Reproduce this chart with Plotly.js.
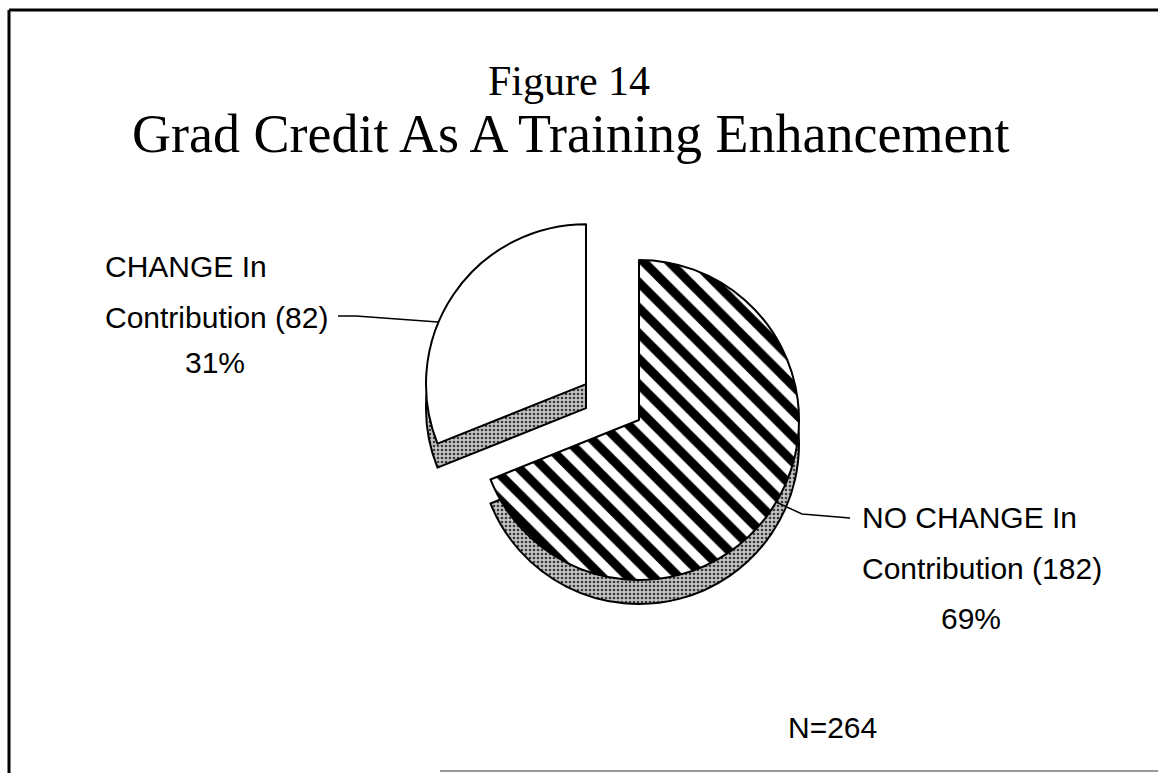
<!DOCTYPE html>
<html>
<head>
<meta charset="utf-8">
<script src="https://cdn.plot.ly/plotly-3.0.1.min.js"></script>
<style>
html,body{margin:0;padding:0;background:#fff;}
#chart{width:1158px;height:773px;}
</style>
</head>
<body>
<div id="chart"></div>
<script>
// ---- data ----
var categoryHeads = ['NO CHANGE In', 'CHANGE In'];
var categoryTail = 'Contribution';
var counts = [182, 82];
var titleLine1 = 'Figure 14';
var titleLine2 = 'Grad Credit As A Training Enhancement';

// ---- derived ----
var W = 1158, H = 773;
var total = counts.reduce(function(a, b){ return a + b; }, 0);
var pcts = counts.map(function(v){ return Math.round(v / total * 100); });
var labels = categoryHeads.map(function(h){ return h + ' ' + categoryTail; });
function px(x){ return x / W; }
function py(y){ return 1 - y / H; }

var pullArr = [0, 0.4];
var cx = 639, cy = 420, half = 224, depth = 24;

var topTrace = {
  type: 'pie',
  labels: labels,
  values: counts,
  sort: false,
  direction: 'clockwise',
  rotation: 0,
  pull: pullArr,
  textinfo: 'none',
  hoverinfo: 'label+value+percent',
  showlegend: false,
  domain: {x: [px(cx - half), px(cx + half)], y: [py(cy + half), py(cy - half)]},
  marker: {
    colors: ['#ffffff', '#ffffff'],
    line: {color: '#000000', width: 2},
    pattern: {shape: ['\\', ''], fgcolor: '#000000', bgcolor: '#ffffff', size: 18, solidity: 0.5}
  }
};
var sideTrace = {
  type: 'pie',
  labels: labels,
  values: counts,
  sort: false,
  direction: 'clockwise',
  rotation: 0,
  pull: pullArr,
  textinfo: 'none',
  hoverinfo: 'skip',
  showlegend: false,
  domain: {x: [px(cx - half), px(cx + half)], y: [py(cy + depth + half), py(cy + depth - half)]},
  marker: {
    colors: ['#b0b0b0', '#b0b0b0'],
    line: {color: '#000000', width: 2},
    pattern: {shape: '.', fgcolor: '#3a3a3a', bgcolor: '#c4c4c4', size: 4, solidity: 0.35}
  }
};

var labFont = {family: 'Liberation Sans, Arial, sans-serif', size: 30, color: '#000'};
function ann(text, x, y, xanchor){
  return {text: text, x: px(x), y: py(y), xref: 'paper', yref: 'paper',
          xanchor: xanchor, yanchor: 'middle', showarrow: false, font: labFont};
}
var annotations = [
  {text: titleLine2, x: px(570), y: py(134), xref: 'paper', yref: 'paper',
   xanchor: 'center', yanchor: 'middle', showarrow: false,
   font: {family: 'Liberation Serif, Times New Roman, serif', size: 54, color: '#000'}},
  ann(categoryHeads[1], 103, 267, 'left'),
  ann(categoryTail + ' (' + counts[1] + ')', 103, 317, 'left'),
  ann(pcts[1] + '%', 215, 362, 'center'),
  ann(categoryHeads[0], 860, 517, 'left'),
  ann(categoryTail + ' (' + counts[0] + ')', 860, 568, 'left'),
  ann(pcts[0] + '%', 971, 618, 'center'),
  ann('N=' + total, 786, 727, 'left')
];

function pathPx(pts){
  return 'M' + pts.map(function(p){ return px(p[0]) + ',' + py(p[1]); }).join(' L');
}
var shapes = [
  {type: 'line', xref: 'paper', yref: 'paper', x0: px(9), x1: px(9), y0: py(10), y1: py(773), line: {color: '#000', width: 3}},
  {type: 'line', xref: 'paper', yref: 'paper', x0: px(9), x1: px(1158), y0: py(10), y1: py(10), line: {color: '#000', width: 3}},
  {type: 'line', xref: 'paper', yref: 'paper', x0: px(440), x1: px(1158), y0: py(771), y1: py(771), line: {color: '#999', width: 2}},
  {type: 'path', xref: 'paper', yref: 'paper', path: pathPx([[338, 316], [356, 316], [438, 322]]), line: {color: '#000', width: 1.5}},
  {type: 'path', xref: 'paper', yref: 'paper', path: pathPx([[776, 502], [802, 514], [850, 518]]), line: {color: '#000', width: 1.5}}
];

var layout = {
  width: W, height: H,
  margin: {l: 0, r: 0, t: 0, b: 0},
  paper_bgcolor: '#ffffff',
  plot_bgcolor: '#ffffff',
  title: {text: titleLine1, x: px(569), xanchor: 'center', xref: 'paper', y: py(80), yref: 'container', yanchor: 'middle',
          font: {family: 'Liberation Serif, Times New Roman, serif', size: 42, color: '#000'}},
  annotations: annotations,
  shapes: shapes,
  showlegend: false
};

Plotly.newPlot('chart', [sideTrace, topTrace], layout, {displayModeBar: false, staticPlot: true});
</script>
</body>
</html>
